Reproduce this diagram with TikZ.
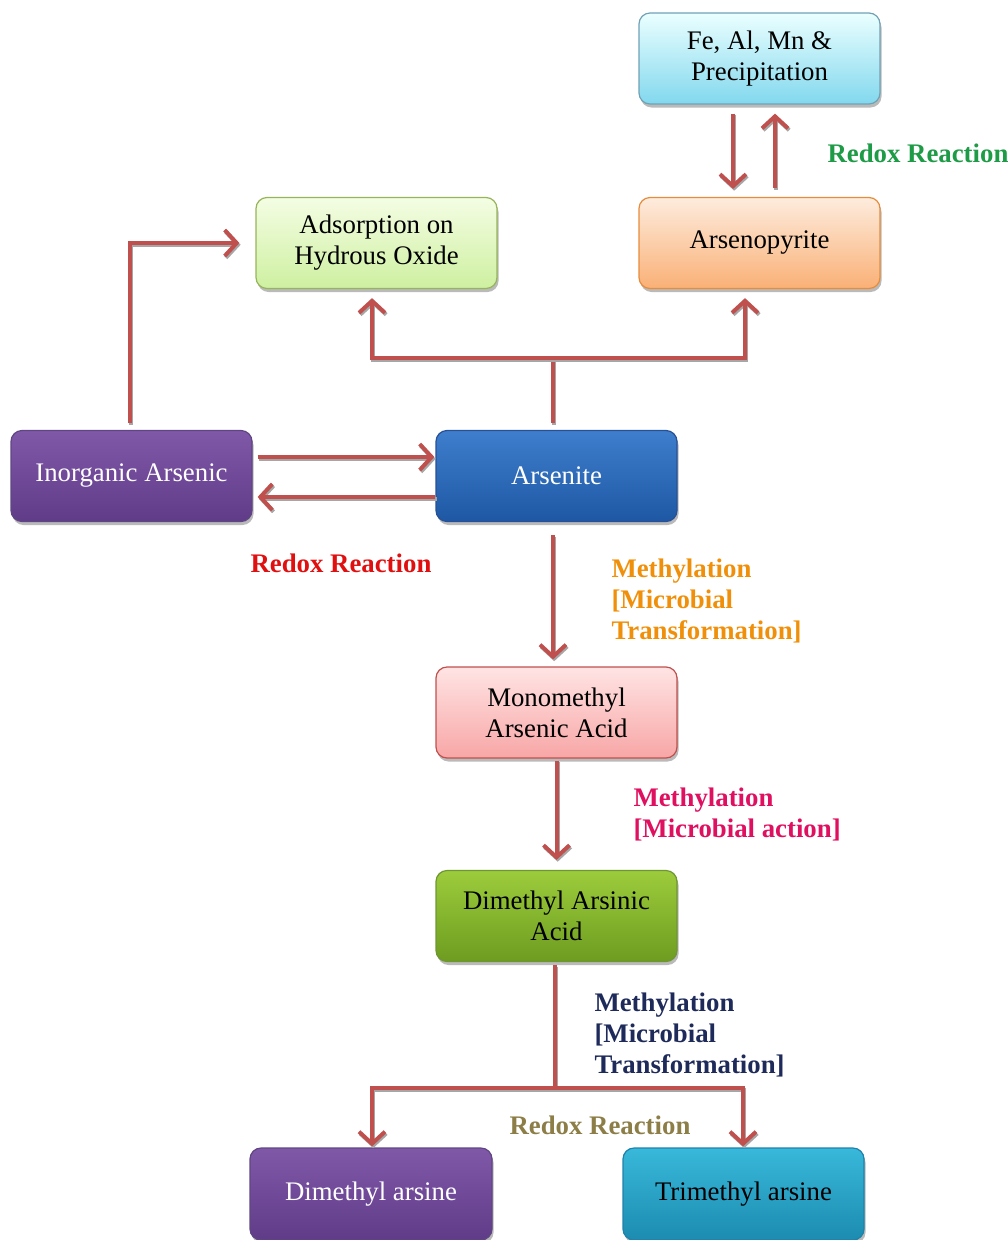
\documentclass[tikz,border=0pt]{standalone}
\usepackage{fontspec}
\setmainfont{Liberation Serif}
\usetikzlibrary{arrows.meta,shadows,calc}
\definecolor{arr}{HTML}{C0504D}
\begin{document}
\begin{tikzpicture}[x=1pt,y=-1pt,
  box/.style={rounded corners=11pt, minimum width=241pt, minimum height=91pt, align=center,
    font=\fontsize{26.8}{31}\selectfont, line width=1.2pt,
    drop shadow={shadow xshift=1.5pt, shadow yshift=-3.5pt, fill=black!45, opacity=0.6}},
  lbl/.style={font=\fontsize{26.8}{31}\selectfont\bfseries, align=left, anchor=west},
  conn/.style={draw=arr, line width=4pt, -{Straight Barb[length=12pt,width=26pt,line width=4pt]},
    preaction={draw=black!35, line width=4pt, transform canvas={shift={(1.2pt,-1.8pt)}}}},
  line/.style={draw=arr, line width=4pt,
    preaction={draw=black!35, line width=4pt, transform canvas={shift={(1.2pt,-1.8pt)}}}}
]
\useasboundingbox (0,0) rectangle (1007,1240);
% boxes
\node[box, draw=cyan!55!black!70, top color=cyan!8, bottom color={rgb,255:red,130;green,216;blue,238}] (fe) at (759.5,58.5) {Fe, Al, Mn \&\\Precipitation};
\node[box, draw={rgb,255:red,230;green,140;blue,60}, top color={rgb,255:red,253;green,236;blue,222}, bottom color={rgb,255:red,250;green,176;blue,118}] (arsp) at (759.5,243) {Arsenopyrite};
\node[box, draw={rgb,255:red,150;green,180;blue,90}, top color={rgb,255:red,244;green,253;blue,228}, bottom color={rgb,255:red,206;green,240;blue,160}] (ads) at (376.5,243) {Adsorption on\\Hydrous Oxide};
\node[box, draw={rgb,255:red,95;green,70;blue,130}, top color={rgb,255:red,128;green,88;blue,168}, bottom color={rgb,255:red,96;green,60;blue,136}, text=white] (inorg) at (131.5,476) {Inorganic Arsenic};
\node[box, draw={rgb,255:red,40;green,80;blue,150}, top color={rgb,255:red,62;green,126;blue,204}, bottom color={rgb,255:red,30;green,88;blue,164}, text=white] (ars) at (556.5,476) {Arsenite};
\node[box, draw=arr, top color={rgb,255:red,255;green,228;blue,228}, bottom color={rgb,255:red,248;green,166;blue,166}] (mono) at (556.5,712.5) {Monomethyl\\Arsenic Acid};
\node[box, draw={rgb,255:red,110;green,150;blue,50}, top color={rgb,255:red,156;green,204;blue,60}, bottom color={rgb,255:red,110;green,156;blue,32}] (dma) at (556.5,916) {Dimethyl Arsinic\\Acid};
\node[box, draw={rgb,255:red,95;green,70;blue,130}, top color={rgb,255:red,128;green,88;blue,168}, bottom color={rgb,255:red,96;green,60;blue,136}, text=white, minimum width=242pt, minimum height=92pt] (dmar) at (371,1194) {Dimethyl arsine};
\node[box, draw={rgb,255:red,30;green,130;blue,170}, top color={rgb,255:red,56;green,184;blue,218}, bottom color={rgb,255:red,28;green,140;blue,176}, minimum height=92pt] (tmar) at (743.5,1194) {Trimethyl arsine};
% labels
\node[lbl, text={rgb,255:red,30;green,155;blue,70}] (l1) at (824,153) {Redox Reaction};
\node[lbl, text={rgb,255:red,224;green,16;blue,16}] (l2) at (247,563) {Redox Reaction};
\node[lbl, text={rgb,255:red,240;green,144;blue,10}] (l3) at (608,601) {Methylation\\{[}Microbial\\Transformation{]}};
\node[lbl, text={rgb,255:red,224;green,16;blue,96}] (l4) at (630,814) {Methylation\\{[}Microbial action{]}};
\node[lbl, text={rgb,255:red,30;green,42;blue,90}] (l5) at (591,1035) {Methylation\\{[}Microbial\\Transformation{]}};
\node[lbl, text={rgb,255:red,140;green,126;blue,70}] (l6) at (506,1125) {Redox Reaction};
% connectors
\coordinate (j1) at (553,358);
\coordinate (j2) at (555,1088);
\draw[conn] ([shift={(-26.5pt,-9pt)}]fe.south) -- ([shift={(-26.5pt,8pt)}]arsp.north);
\draw[conn] ([shift={(15.5pt,9pt)}]arsp.north) -- ([shift={(15.5pt,-9pt)}]fe.south);
\draw[line] ([shift={(-3.5pt,7pt)}]ars.north) -- (j1);
\draw[conn] (j1) -| ([shift={(-4.5pt,-9pt)}]ads.south);
\draw[conn] (j1) -| ([shift={(-14.5pt,-9pt)}]arsp.south);
\draw[conn] ([shift={(-1.5pt,7pt)}]inorg.north) |- ([xshift=-16pt]ads.west);
\draw[conn] ([shift={(5pt,19pt)}]inorg.east) -- ([shift={(-1pt,19pt)}]ars.west);
\draw[conn] ([yshift=-21pt]ars.west) -- ([shift={(5pt,-21pt)}]inorg.east);
\draw[conn] ([shift={(-3.5pt,-13pt)}]ars.south) -- ([shift={(-3.5pt,7pt)}]mono.north);
\draw[conn] ([yshift=-2pt]mono.south) -- ([yshift=10pt]dma.north);
\draw[line] ([shift={(-1.5pt,-3pt)}]dma.south) -- (j2);
\draw[conn] (j2) -| ([shift={(1pt,1pt)}]dmar.north);
\draw[conn] (j2) -| ([shift={(-0.5pt,1pt)}]tmar.north);
\end{tikzpicture}
\end{document}
